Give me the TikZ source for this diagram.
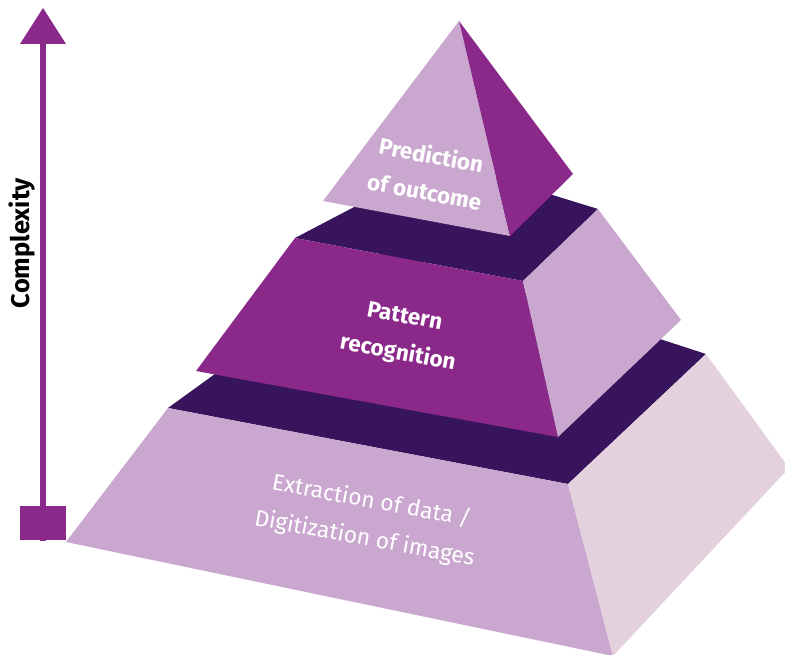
\documentclass[tikz,border=0pt]{standalone}
\usepackage{fontspec}
\setmainfont{Fira Sans}
\definecolor{lav}{HTML}{C9A7CE}
\definecolor{plum}{HTML}{8B298B}
\definecolor{dark}{HTML}{38145C}
\definecolor{pale}{HTML}{E3D1DD}
\begin{document}
\begin{tikzpicture}[x=1pt,y=-1pt,
  face/.style={draw=none},
  lbl/.style={text=white,align=center,rotate=-10.5,inner sep=0pt},
  ttl/.style={font=\bfseries\fontsize{22.5}{37}\selectfont},
  btl/.style={font=\fontsize{22.8}{38}\selectfont}]
\useasboundingbox (0,0) rectangle (785,655);
\clip (0,0) rectangle (785,655);
% bottom tier
\fill[dark] (168,408) -- (568,484) -- (706,354) -- (386,250) -- cycle;
\fill[lav] (168,408) -- (568,484) -- (613,656) -- (66,542) -- cycle;
\fill[pale] (568,484) -- (706,354) -- (789,468) -- (613,656) -- cycle;
% middle tier
\fill[dark] (295,238) -- (523,281) -- (598,209) -- (442,161) -- cycle;
\fill[plum] (295,238) -- (523,281) -- (558,437) -- (196,371) -- cycle;
\fill[lav] (523,281) -- (598,209) -- (681,320) -- (558,437) -- cycle;
% top pyramid
\fill[lav] (459,21) -- (323,201) -- (510,236) -- cycle;
\fill[plum] (459,21) -- (510,236) -- (573,174) -- cycle;
% labels
\node[lbl,ttl] (top) at (428,173) {Prediction\\of outcome};
\node[lbl,ttl] (mid) at (401,336) {Pattern\\recognition};
\node[lbl,btl] (bot) at (368,520) {Extraction of data /\\Digitization of images};
% complexity axis
\coordinate (axtop) at (43,44);
\coordinate (axbot) at (43,541);
\draw[plum,line width=6pt] (axbot) -- (axtop);
\fill[plum] (20,44) -- (66,44) -- (43,8) -- cycle;
\fill[plum] (20,506) rectangle (66,540);
\node[rotate=90,font=\bfseries\fontsize{25.5}{28}\selectfont,inner sep=0pt] (cx) at (22,243) {Complexity};
\end{tikzpicture}
\end{document}
